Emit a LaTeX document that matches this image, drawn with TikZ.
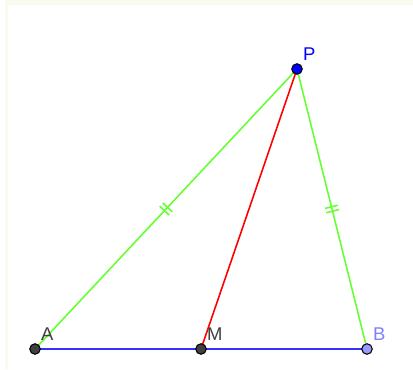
\documentclass[tikz,border=0pt]{standalone}
\usepackage{fontspec}
\setmainfont{Liberation Sans}
\usetikzlibrary{positioning,decorations.markings}
\definecolor{ggreen}{RGB}{102,255,51}
\definecolor{gblue}{RGB}{51,51,255}
\definecolor{gpoint}{RGB}{64,64,64}
\definecolor{gpurple}{RGB}{153,153,255}
\definecolor{glabel}{RGB}{127,127,255}
\definecolor{gframe}{RGB}{250,250,238}
\tikzset{
  pt/.style={circle, draw=black, line width=0.6pt, inner sep=0pt, minimum size=0.21cm},
  lbl/.style={font=\fontsize{10.5}{12}\selectfont, inner sep=1pt},
  ticks/.style={postaction={decorate}, decoration={markings,
      mark=at position 0.5 with {\draw (-0.045,-0.13) -- (-0.045,0.13) (0.045,-0.13) -- (0.045,0.13);}}}
}
\begin{document}
\begin{tikzpicture}
  \useasboundingbox (0,0) rectangle (8.26,7.38);
  \fill[gframe] (0.1,0) rectangle (8.26,7.38);
  \fill[white] (0.16,0) rectangle (8.26,7.28);
  \coordinate (a) at (0.70,0.40);
  \coordinate (m) at (4.02,0.40);
  \coordinate (b) at (7.34,0.40);
  \coordinate (p) at (5.94,6.00);
  \draw[gblue, line width=0.9pt] (a) -- (b);
  \draw[red, line width=0.9pt] (m) -- (p);
  \draw[ggreen, line width=0.9pt, ticks] (a) -- (p);
  \draw[ggreen, line width=0.9pt, ticks] (p) -- (b);
  \node[pt, fill=gpoint] (A) at (a) {};
  \node[pt, fill=gpoint] (M) at (m) {};
  \node[pt, fill=gpurple] (B) at (b) {};
  \node[pt, fill=blue] (P) at (p) {};
  \node[lbl, text=gpoint, above right=0.04cm and 0.0cm of A] {A};
  \node[lbl, text=gpoint, above right=0.04cm and 0.0cm of M] {M};
  \node[lbl, text=glabel, above right=0.04cm and 0.0cm of B] {B};
  \node[lbl, text=blue, above right=0.04cm and 0.0cm of P] {P};
\end{tikzpicture}
\end{document}
